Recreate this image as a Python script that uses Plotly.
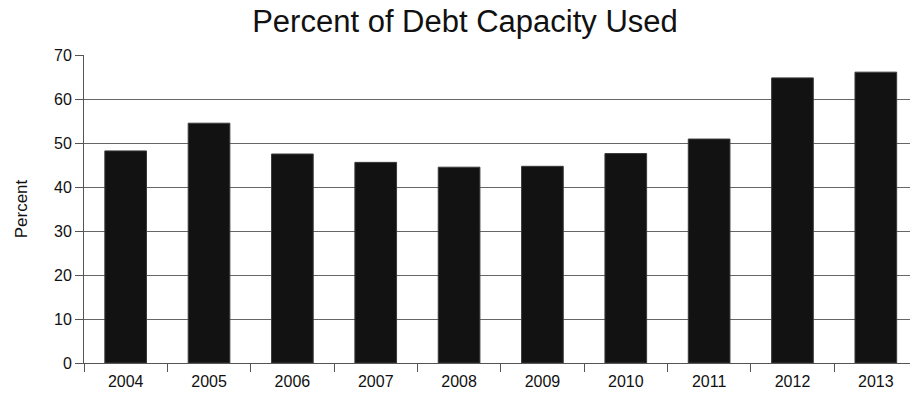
import plotly.graph_objects as go

years = ["2004", "2005", "2006", "2007", "2008", "2009", "2010", "2011", "2012", "2013"]
percent = [48.2, 54.5, 47.5, 45.6, 44.5, 44.7, 47.6, 50.9, 64.8, 66.1]
y_ticks = [0, 10, 20, 30, 40, 50, 60, 70]

fig = go.Figure(go.Bar(
    x=years, y=percent, width=0.5,
    marker=dict(color="#121212", line=dict(color="#3a3a3a", width=1)),
))

font = "Liberation Sans, Arial, sans-serif"
fig.update_layout(
    width=910, height=400,
    margin=dict(l=84, r=0, t=55, b=37),
    paper_bgcolor="white", plot_bgcolor="white",
    showlegend=False,
    title=dict(text="Percent of Debt Capacity Used", x=465/910, xanchor="center",
               y=1 - 21/400, yanchor="middle",
               font=dict(family=font, size=31, color="#111")),
    font=dict(family=font, color="#111"),
)
fig.update_xaxes(
    type="category", range=[-0.5, 9.41],
    tickson="boundaries", ticks="outside", ticklen=8, tickcolor="#555",
    ticklabelstandoff=4,
    showline=True, linecolor="#555", linewidth=1,
    showgrid=False, tickfont=dict(size=16, color="#111"),
)
fig.update_yaxes(
    range=[0, 70], tickvals=y_ticks, ticks="outside", ticklen=8, tickcolor="#555",
    showline=True, linecolor="#555", linewidth=1,
    showgrid=True, gridcolor="#666", gridwidth=1, zeroline=False,
    tickfont=dict(size=16, color="#111"),
    title=dict(text="Percent", font=dict(size=17, color="#111"), standoff=22),
)
fig.write_html("out.html")
